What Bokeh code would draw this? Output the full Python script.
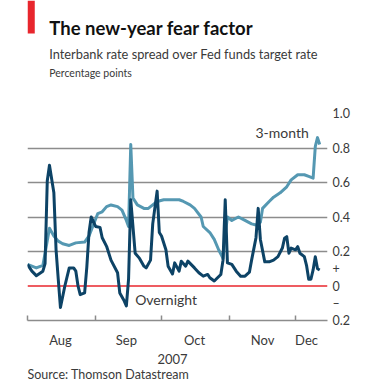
import pandas as pd
from bokeh.plotting import figure
from bokeh.layouts import column
from bokeh.models import Range1d, FixedTicker, Span, Label
from bokeh.embed import file_html
from bokeh.resources import INLINE

# ---------------- data ----------------
overnight_dates = [
    "2007-08-01", "2007-08-03", "2007-08-05", "2007-08-08", "2007-08-09", "2007-08-10",
    "2007-08-11", "2007-08-13", "2007-08-14", "2007-08-15", "2007-08-16", "2007-08-18",
    "2007-08-20", "2007-08-22", "2007-08-23", "2007-08-24", "2007-08-25", "2007-08-27",
    "2007-08-28", "2007-08-29", "2007-08-30", "2007-09-01", "2007-09-03", "2007-09-04",
    "2007-09-06", "2007-09-08", "2007-09-11", "2007-09-12", "2007-09-14", "2007-09-15",
    "2007-09-16", "2007-09-17", "2007-09-19", "2007-09-21", "2007-09-23", "2007-09-24",
    "2007-09-26", "2007-09-27", "2007-09-29", "2007-09-30", "2007-10-01", "2007-10-03",
    "2007-10-04", "2007-10-06", "2007-10-07", "2007-10-09", "2007-10-10", "2007-10-12",
    "2007-10-13", "2007-10-16", "2007-10-18", "2007-10-20", "2007-10-22", "2007-10-23",
    "2007-10-25", "2007-10-28", "2007-10-29", "2007-10-30", "2007-10-31", "2007-11-02",
    "2007-11-04", "2007-11-06", "2007-11-08", "2007-11-10", "2007-11-11", "2007-11-13",
    "2007-11-14", "2007-11-15", "2007-11-17", "2007-11-19", "2007-11-21", "2007-11-23",
    "2007-11-25", "2007-11-26", "2007-11-27", "2007-11-28", "2007-11-29", "2007-12-01",
    "2007-12-02", "2007-12-03", "2007-12-05", "2007-12-06", "2007-12-07", "2007-12-08",
    "2007-12-09", "2007-12-10", "2007-12-11", "2007-12-12",
]
overnight_values = [
    0.125, 0.086, 0.06, 0.086, 0.13, 0.61,
    0.70, 0.54, 0.21, 0.04, -0.125, 0.0,
    0.105, 0.105, 0.086, 0.0, -0.05, -0.04,
    0.11, 0.31, 0.40, 0.345, 0.34, 0.28,
    0.23, 0.15, 0.077, -0.04, -0.086, -0.115,
    0.04, 0.50, 0.19, 0.16, 0.115, 0.105,
    0.15, 0.36, 0.55, 0.31, 0.29, 0.21,
    0.115, 0.07, 0.134, 0.086, 0.144, 0.115,
    0.144, 0.105, 0.077, 0.057, 0.067, 0.048,
    0.029, 0.067, 0.15, 0.50, 0.134, 0.125,
    0.086, 0.057, 0.057, 0.08, 0.15, 0.28,
    0.45, 0.27, 0.14, 0.14, 0.15, 0.17,
    0.22, 0.277, 0.286, 0.19, 0.22, 0.21,
    0.228, 0.19, 0.17, 0.12, 0.039, 0.039,
    0.093, 0.17, 0.10, 0.093,
]

three_month_dates = [
    "2007-08-01", "2007-08-03", "2007-08-05", "2007-08-08", "2007-08-09", "2007-08-11",
    "2007-08-13", "2007-08-15", "2007-08-17", "2007-08-20", "2007-08-23", "2007-08-27",
    "2007-08-29", "2007-08-31", "2007-09-02", "2007-09-04", "2007-09-06", "2007-09-08",
    "2007-09-11", "2007-09-13", "2007-09-15", "2007-09-16", "2007-09-17", "2007-09-18",
    "2007-09-20", "2007-09-23", "2007-09-25", "2007-09-27", "2007-09-29", "2007-10-02",
    "2007-10-06", "2007-10-09", "2007-10-11", "2007-10-14", "2007-10-16", "2007-10-19",
    "2007-10-20", "2007-10-23", "2007-10-25", "2007-10-27", "2007-10-29", "2007-10-30",
    "2007-10-31", "2007-11-02", "2007-11-05", "2007-11-08", "2007-11-11", "2007-11-13",
    "2007-11-15", "2007-11-16", "2007-11-19", "2007-11-21", "2007-11-24", "2007-11-27",
    "2007-11-29", "2007-12-02", "2007-12-05", "2007-12-07", "2007-12-09", "2007-12-10",
    "2007-12-11", "2007-12-12",
]
three_month_values = [
    0.125, 0.115, 0.105, 0.12, 0.19, 0.335,
    0.29, 0.26, 0.245, 0.235, 0.25, 0.255,
    0.29, 0.355, 0.42, 0.43, 0.46, 0.47,
    0.46, 0.44, 0.38, 0.345, 0.82, 0.51,
    0.47, 0.45, 0.45, 0.47, 0.49, 0.50,
    0.50, 0.50, 0.49, 0.47, 0.45, 0.40,
    0.345, 0.31, 0.27, 0.21, 0.16, 0.30,
    0.40, 0.38, 0.40, 0.38, 0.36, 0.354,
    0.37, 0.45, 0.49, 0.515, 0.54, 0.575,
    0.615, 0.645, 0.645, 0.635, 0.625, 0.81,
    0.86, 0.82,
]

month_ticks = ["2007-08-01", "2007-09-01", "2007-10-01", "2007-11-01", "2007-12-01"]
month_labels = ["Aug", "Sep", "Oct", "Nov", "Dec"]
month_label_dates = ["2007-08-16", "2007-09-15", "2007-10-16", "2007-11-16", "2007-12-06"]
y_ticks = [-0.2, -0.1, 0.0, 0.1, 0.2, 0.4, 0.6, 0.8, 1.0]
y_tick_labels = ["0.2", "\u2013", "0", "+", "0.2", "0.4", "0.6", "0.8", "1.0"]
grid_levels = [0.2, 0.4, 0.6, 0.8, 1.0]

title = "The new-year fear factor"
subtitle = "Interbank rate spread over Fed funds target rate"
units = "Percentage points"
year_label = "2007"
source = "Source: Thomson Datastream"

# ---------------- style ----------------
DARK = "#0d4366"
LIGHT = "#5598b2"
RED = "#e8262d"
GRID = "#8c8c8c"
TEXT = "#3a3a3a"
FONT = "Lato"

W = 372
HEAD_H, MAIN_H, FOOT_H = 99, 231, 53
BORDER_L, BORDER_R = 27, 45


def ms(d):
    return pd.Timestamp(d).value / 1e6


DAY = 86400000.0
PX_PER_DAY = 2.197
X0 = ms("2007-08-01")
x_range = Range1d(X0, X0 + (W - BORDER_L - BORDER_R) / PX_PER_DAY * DAY)


def bare(fig):
    fig.axis.visible = False
    fig.grid.visible = False
    fig.outline_line_color = None
    fig.background_fill_color = "white"
    fig.border_fill_color = "white"


def add_text(fig, text, x, y, size, align="left", bold=False, color=TEXT):
    fig.add_layout(Label(x=x, y=y, text=text, text_font=FONT,
                         text_font_size=size, text_align=align,
                         text_baseline="middle", text_color=color,
                         text_font_style="bold" if bold else "normal"))


# ---------------- header ----------------
head = figure(width=W, height=HEAD_H, output_backend="svg", toolbar_location=None,
              x_range=Range1d(0, W), y_range=Range1d(HEAD_H, 0),
              min_border=0)
bare(head)
head.quad(left=[0], right=[9], top=[0], bottom=[33], fill_color=RED, line_color=None)
add_text(head, title, 27, 27, "18.5px", bold=True, color="#111111")
add_text(head, subtitle, 27, 53, "12.8px")
add_text(head, units, 27, 72, "10.5px")

# ---------------- main chart ----------------
p = figure(width=W, height=MAIN_H, x_axis_type="datetime", y_axis_location="right",
           output_backend="svg", toolbar_location=None,
           x_range=x_range, y_range=Range1d(-0.2, 1.0),
           min_border_left=BORDER_L, min_border_right=BORDER_R,
           min_border_top=14, min_border_bottom=10)
p.outline_line_color = None
p.background_fill_color = "white"
p.border_fill_color = "white"

p.xgrid.visible = False
p.ygrid.ticker = FixedTicker(ticks=grid_levels)
p.ygrid.grid_line_color = GRID
p.ygrid.grid_line_width = 1.5

p.add_layout(Span(location=0, dimension="width", line_color=RED,
                  line_width=1.5, level="underlay"))

ya = p.yaxis[0]
ya.ticker = FixedTicker(ticks=y_ticks)
ya.major_label_overrides = {t: l for t, l in zip(y_ticks, y_tick_labels)}
ya.axis_line_color = None
ya.major_tick_line_color = None
ya.minor_tick_line_color = None
ya.major_tick_out = 0
ya.major_tick_in = 0
ya.major_label_standoff = 5
ya.major_label_text_font = FONT
ya.major_label_text_font_size = "12.5px"
ya.major_label_text_color = TEXT

xa = p.xaxis[0]
xa.ticker = FixedTicker(ticks=[ms(d) for d in month_ticks])
xa.axis_line_color = GRID
xa.axis_line_width = 1.5
xa.major_tick_line_color = GRID
xa.major_tick_line_width = 1.5
xa.major_tick_in = 5
xa.major_tick_out = 0
xa.minor_tick_line_color = None
xa.major_label_standoff = 0
xa.major_label_text_font_size = "0px"
xa.major_label_text_alpha = 0

p.line(pd.to_datetime(three_month_dates), three_month_values,
       line_color=LIGHT, line_width=3, line_join="round")
p.line(pd.to_datetime(overnight_dates), overnight_values,
       line_color=DARK, line_width=3, line_join="round")

p.add_layout(Label(x=ms("2007-12-07"), y=0.89, text="3-month", text_font=FONT,
                   text_font_size="14px", text_align="right",
                   text_baseline="middle", text_color=TEXT))
p.add_layout(Label(x=ms("2007-09-19"), y=-0.08, text="Overnight", text_font=FONT,
                   text_font_size="14px", text_align="left",
                   text_baseline="middle", text_color=TEXT))

# ---------------- footer ----------------
foot = figure(width=W, height=FOOT_H, output_backend="svg", toolbar_location=None,
              x_range=x_range, y_range=Range1d(FOOT_H, 0),
              min_border_left=BORDER_L, min_border_right=BORDER_R,
              min_border_top=0, min_border_bottom=0)
bare(foot)
for d, m in zip(month_label_dates, month_labels):
    add_text(foot, m, ms(d), 9, "13px", align="center")
add_text(foot, year_label, ms("2007-10-06"), 28, "13px", align="center")
add_text(foot, source, X0, 44, "12.5px")

layout = column(head, p, foot, spacing=0)
open("out.html", "w").write(file_html(layout, INLINE))
